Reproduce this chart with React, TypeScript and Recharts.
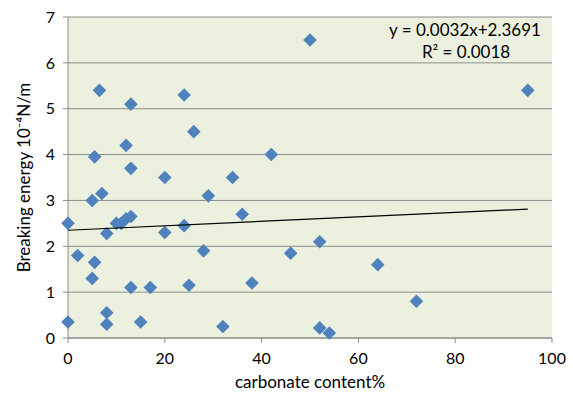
import { ScatterChart, Scatter, XAxis, YAxis, CartesianGrid } from 'recharts';

// carbonate content (%) vs breaking energy (10^-4 N/m)
const carbonate = [
  6.5, 13, 24, 26, 12, 5.5, 13, 20, 34, 42, 7, 29, 50, 95,
  5, 0, 8, 10, 11, 12, 13, 20, 24, 36, 2, 5.5, 5, 28, 46,
  13, 17, 25, 38, 0, 8, 8, 15, 32, 52, 64, 72, 52, 54,
];
const energy = [
  5.4, 5.1, 5.3, 4.5, 4.2, 3.95, 3.7, 3.5, 3.5, 4.0, 3.15, 3.1, 6.5, 5.4,
  3.0, 2.5, 2.28, 2.5, 2.5, 2.6, 2.65, 2.3, 2.45, 2.7, 1.8, 1.65, 1.3, 1.9, 1.85,
  1.1, 1.1, 1.15, 1.2, 0.35, 0.55, 0.3, 0.35, 0.25, 2.1, 1.6, 0.8, 0.22, 0.11,
];

// linear trendline as drawn
const trendX = [0, 95];
const trendY = [2.35, 2.81];

const xTicks = [0, 20, 40, 60, 80, 100];
const yTicks = [0, 1, 2, 3, 4, 5, 6, 7];

const points = carbonate.map((x, i) => ({ x, y: energy[i] }));
const trend = trendX.map((x, i) => ({ x, y: trendY[i] }));

const font = 'Lato, "Open Sans", sans-serif';

const Diamond = (props: any) => {
  const { cx, cy } = props;
  const r = 6.8;
  return (
    <polygon
      points={`${cx},${cy - r} ${cx + r},${cy} ${cx},${cy + r} ${cx - r},${cy}`}
      fill="#4F81BD"
    />
  );
};

export default function App() {
  return (
    <div style={{ position: 'absolute', left: 0, top: 0, width: 573, height: 393, background: '#fff' }}>
      <ScatterChart width={573} height={393} margin={{ top: 17, right: 21, left: 28, bottom: 5 }}>
        <CartesianGrid vertical={false} stroke="#8c8c8c" fill="#EBF1DE" fillOpacity={1} />
        <XAxis
          type="number"
          dataKey="x"
          domain={[0, 100]}
          ticks={xTicks}
          height={50}
          stroke="#8c8c8c"
          tickSize={5}
          tickMargin={10}
          tick={{ fill: '#000', fontSize: 16, fontFamily: font }}
          label={{ value: 'carbonate content%', position: 'insideBottom', offset: 0, fill: '#000', fontSize: 17, fontFamily: font }}
        />
        <YAxis
          type="number"
          dataKey="y"
          domain={[0, 7]}
          ticks={yTicks}
          width={40}
          stroke="#8c8c8c"
          tickSize={5}
          tickMargin={8}
          tick={{ fill: '#000', fontSize: 16, fontFamily: font }}
          label={{ value: 'Breaking energy  10⁻⁴N/m', angle: -90, position: 'insideLeft', offset: -4, style: { textAnchor: 'middle' }, fill: '#000', fontSize: 17, fontFamily: font }}
        />
        <Scatter data={points} shape={<Diamond />} isAnimationActive={false} />
        <Scatter
          data={trend}
          line={{ stroke: '#000', strokeWidth: 1.2 }}
          shape={() => <g />}
          isAnimationActive={false}
        />
        <text x={465} y={36} textAnchor="middle" fontSize={17} fontFamily={font} fill="#000">
          y = 0.0032x+2.3691
        </text>
        <text x={466} y={58} textAnchor="middle" fontSize={17} fontFamily={font} fill="#000">
          R² = 0.0018
        </text>
      </ScatterChart>
    </div>
  );
}
